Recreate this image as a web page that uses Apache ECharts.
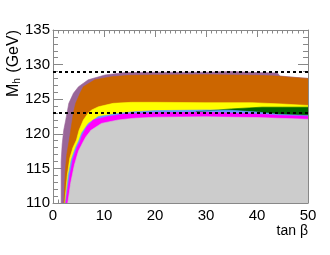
<!DOCTYPE html>
<html>
<head>
<meta charset="utf-8">
<script src="https://cdn.jsdelivr.net/npm/echarts@6/dist/echarts.min.js"></script>
<style>html,body{margin:0;padding:0;background:#fff;}#c{width:330px;height:255px;}</style>
</head>
<body>
<div id="c"></div>
<script>
// ---- data (tan beta, M_h upper envelope of each region) ----
const purpleT = [1.6,1.6,1.8,2.1,2.5,2.8,3.1,4.0,5.0,6.9,10.2,14.1,20,25,30,35,40,44,44.5,50];
const purpleM = [110,116,118.5,120.5,122,123.2,124.4,125.85,126.8,127.8,128.5,128.85,128.9,128.9,128.9,129.0,128.85,128.8,128.35,128.0];
const orangeT = [2.15,2.4,2.7,3.3,4.0,4.45,5.3,5.95,8.2,11.5,15,20,30,40,44,46,50];
const orangeM = [110,114.5,117,119.6,123,124.4,125.85,126.8,127.8,128.25,128.45,128.5,128.55,128.45,128.35,128.2,128.0];
const yellowT = [2.3,2.8,3.3,3.9,4.6,5.1,5.95,6.9,7.6,8.9,11.8,15.4,20,30,39,45,50];
const yellowM = [110,114,116.5,118,119.1,120.5,122,123,123.45,123.9,124.4,124.55,124.55,124.5,124.5,124.3,124.1];
const greenT = [28,35,41,45,50];
const greenM = [123.2,123.6,123.85,123.85,123.85];
const blueT = [2.4,3.0,3.6,4.4,5.1,5.6,6.9,8.9,13.5,16,20,30,35,40,44.5,50];
const blueM = [110,114,116.3,118,119.1,120.1,121.5,122.5,123,123.2,123.35,123.45,123.4,123.15,122.8,122.65];
const magentaT = [2.5,3.3,3.9,4.7,5.4,5.6,6.6,7.9,10.8,14,20,30,35,40,45,50];
const magentaM = [110,114,116.3,118,119.1,119.6,121,122,122.5,122.85,123.05,123.1,123.0,122.85,122.65,122.55];
const greyT = [2.9,3.5,4.2,5.0,6.1,6.5,7.45,9.5,12.8,16,20,30,40,50];
const greyM = [110,113,115.5,117.5,119.1,119.6,120.5,121.5,122,122.25,122.4,122.45,122.35,122.1];
const hLines = [129, 123];
const xTicks = [0,10,20,30,40,50];
const yTicks = [110,115,120,125,130,135];

const pair = (t, m) => t.map((v, i) => [v, m[i]]);
const regions = [
  {name:'purple', t:purpleT, m:purpleM, color:'#996699'},
  {name:'orange', t:orangeT, m:orangeM, color:'#cc6600'},
  {name:'yellow', t:yellowT, m:yellowM, color:'#ffff00'},
  {name:'green', t:greenT, m:greenM, color:'#006600'},
  {name:'blue', t:blueT, m:blueM, color:'#6699ff'},
  {name:'magenta', t:magentaT, m:magentaM, color:'#ff00ff'},
  {name:'grey', t:greyT, m:greyM, color:'#cccccc'}
];

const frame = '#888888';
const fontFam = '"Liberation Sans", Arial, sans-serif';
const xBase = {
  type:'value', min:xTicks[0], max:xTicks[xTicks.length-1], interval:10,
  axisLine:{show:true, onZero:false, lineStyle:{color:frame, width:1}},
  axisTick:{show:true, inside:true, length:7, lineStyle:{color:frame}},
  minorTick:{show:true, splitNumber:10, length:3.5, lineStyle:{color:frame}},
  splitLine:{show:false}, minorSplitLine:{show:false}
};
const yBase = {
  type:'value', min:yTicks[0], max:yTicks[yTicks.length-1], interval:5,
  axisLine:{show:true, onZero:false, lineStyle:{color:frame, width:1}},
  axisTick:{show:true, inside:true, length:10, lineStyle:{color:frame}},
  minorTick:{show:true, splitNumber:5, length:5, lineStyle:{color:frame}},
  splitLine:{show:false}, minorSplitLine:{show:false}
};

const series = regions.map((r, i) => ({
  type:'line', name:r.name, data:pair(r.t, r.m),
  showSymbol:false, symbol:'none', silent:true, animation:false,
  lineStyle:{width:0.6, color:r.color},
  areaStyle:{color:r.color, opacity:1, origin:'start'},
  z:2
}));
series[series.length-1].markLine = {
  symbol:'none', silent:true, animation:false,
  label:{show:false},
  lineStyle:{type:[3,3], color:'#000', width:2},
  data:hLines.map(v => ({yAxis:v}))
};

const chart = echarts.init(document.getElementById('c'), null, {renderer:'canvas'});
chart.setOption({
  animation:false,
  backgroundColor:'#fff',
  grid:{left:53, right:22, top:30, bottom:52, containLabel:false},
  xAxis:[
    Object.assign({}, xBase, {position:'bottom',
      axisLabel:{show:true, color:'#000', fontSize:15, fontFamily:fontFam, margin:5}}),
    Object.assign({}, xBase, {position:'top', axisLabel:{show:false}})
  ],
  yAxis:[
    Object.assign({}, yBase, {position:'left',
      axisLabel:{show:true, color:'#000', fontSize:15, fontFamily:fontFam, margin:3}}),
    Object.assign({}, yBase, {position:'right', axisLabel:{show:false}})
  ],
  series:series,
  graphic:[
    {type:'text', x:308, y:224, silent:true,
      style:{text:'tan \u03b2', fill:'#000', font:'14px ' + fontFam, textAlign:'right', textVerticalAlign:'top'}},
    {type:'text', x:13, y:30, rotation:Math.PI/2, silent:true,
      style:{text:'{m|M}{s|h}{m| (GeV)}', fill:'#000', textAlign:'right', textVerticalAlign:'middle',
        rich:{m:{fontSize:16, fontFamily:fontFam, fill:'#000', verticalAlign:'bottom', lineHeight:18},
              s:{fontSize:10, fontFamily:fontFam, fill:'#000', verticalAlign:'bottom', lineHeight:18, padding:[0,1,0,0]}}}}
  ]
});
</script>
</body>
</html>
